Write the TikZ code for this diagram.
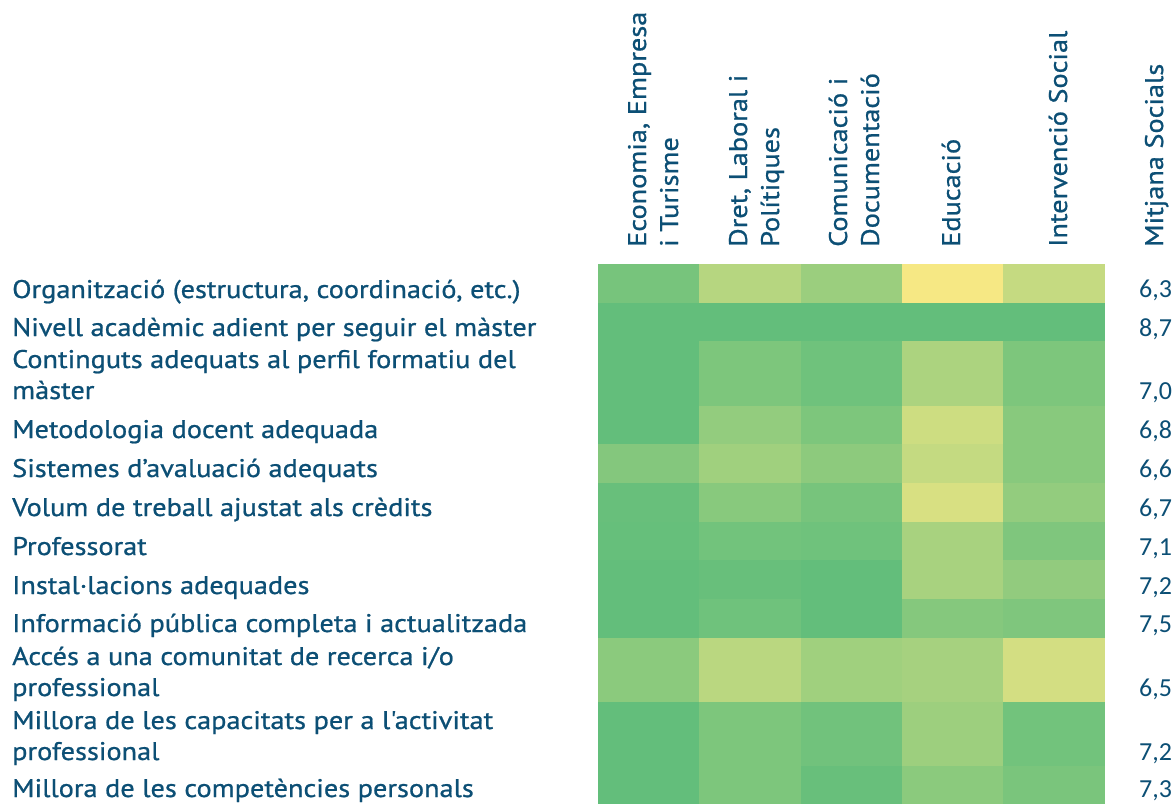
\documentclass[tikz,border=0pt]{standalone}
\usepackage{fontspec}
\setmainfont{PT Sans}[Ligatures=TeXOff,FakeStretch=1.11,FakeBold=0.8]
\newfontfamily\valfont{Carlito}
\definecolor{txt}{HTML}{0C4F75}
\definecolor{hmg}{HTML}{63BE7B}
\definecolor{hmy}{HTML}{FFEB84}
\tikzset{
  lbl/.style={anchor=base west, inner sep=0pt, text=txt, font=\fontsize{25.5}{25.5}\selectfont},
  hdr/.style={lbl, rotate=90},
  val/.style={anchor=base west, inner sep=0pt, text=txt, font=\valfont\fontsize{26}{26}\selectfont}
}
\begin{document}
\begin{tikzpicture}[x=1pt,y=-1pt]
\useasboundingbox (0,0) rectangle (1174,803);
\fill[white] (0,0) rectangle (1174,803);
% heatmap cells: top/bottom/five percentages of green
\foreach \ya/\yb/\pa/\pb/\pc/\pd/\pe in {
  264/303/87/47/64/6/37,
  303/341/100/100/100/100/100,
  341/406/100/83/92/53/83,
  406/444/100/69/83/32/76,
  444/483/79/61/73/38/76,
  483/522/97/76/87/25/69,
  522/560/98/90/92/56/82,
  560/599/100/97/100/56/70,
  599/638/100/92/100/78/82,
  638/702/74/44/61/57/28,
  702/766/100/83/91/63/90,
  766/804/100/83/97/74/85}{
  \fill[hmg!\pa!hmy] (598,\ya) rectangle (699.6,\yb+0.6);
  \fill[hmg!\pb!hmy] (699,\ya) rectangle (801.6,\yb+0.6);
  \fill[hmg!\pc!hmy] (801,\ya) rectangle (902.6,\yb+0.6);
  \fill[hmg!\pd!hmy] (902,\ya) rectangle (1003.6,\yb+0.6);
  \fill[hmg!\pe!hmy] (1003,\ya) rectangle (1105,\yb+0.6);
}
% column headers
\node[hdr] (h1a) at (646,247) {Economia, Empresa};
\node[hdr] (h1b) at (678,247) {i Turisme};
\node[hdr] (h2a) at (747,247) {Dret, Laboral i};
\node[hdr] (h2b) at (779,247) {Polítiques};
\node[hdr] (h3a) at (847,247) {Comunicació i};
\node[hdr] (h3b) at (879,247) {Documentació};
\node[hdr] (h4) at (960,247) {Educació};
\node[hdr] (h5) at (1067,247) {Intervenció Social};
\node[hdr] (h6) at (1163,247) {Mitjana Socials};
% row labels
\node[lbl] (r1) at (12,298) {Organització (estructura, coordinació, etc.)};
\node[lbl] (r2) at (12,336) {Nivell acadèmic adient per seguir el màster};
\node[lbl] (r3a) at (12,368) {Continguts adequats al perfil formatiu del};
\node[lbl] (r3b) at (12,399) {màster};
\node[lbl] (r4) at (12,438) {Metodologia docent adequada};
\node[lbl] (r5) at (12,477) {Sistemes d’avaluació adequats};
\node[lbl] (r6) at (12,516) {Volum de treball ajustat als crèdits};
\node[lbl] (r7) at (12,555) {Professorat};
\node[lbl] (r8) at (12,594) {Instal·lacions adequades};
\node[lbl] (r9) at (12,632) {Informació pública completa i actualitzada};
\node[lbl] (r10a) at (12,665) {Accés a una comunitat de recerca i/o};
\node[lbl] (r10b) at (12,696) {professional};
\node[lbl] (r11a) at (12,729) {Millora de les capacitats per a l'activitat};
\node[lbl] (r11b) at (12,760) {professional};
\node[lbl] (r12) at (12,797) {Millora de les competències personals};
% averages
\node[val] (v1) at (1139,297) {6,3};
\node[val] (v2) at (1139,336) {8,7};
\node[val] (v3) at (1139,399) {7,0};
\node[val] (v4) at (1139,438) {6,8};
\node[val] (v5) at (1139,477) {6,6};
\node[val] (v6) at (1139,516) {6,7};
\node[val] (v7) at (1139,555) {7,1};
\node[val] (v8) at (1139,594) {7,2};
\node[val] (v9) at (1139,632) {7,5};
\node[val] (v10) at (1139,696) {6,5};
\node[val] (v11) at (1139,760) {7,2};
\node[val] (v12) at (1139,797) {7,3};
\end{tikzpicture}
\end{document}
